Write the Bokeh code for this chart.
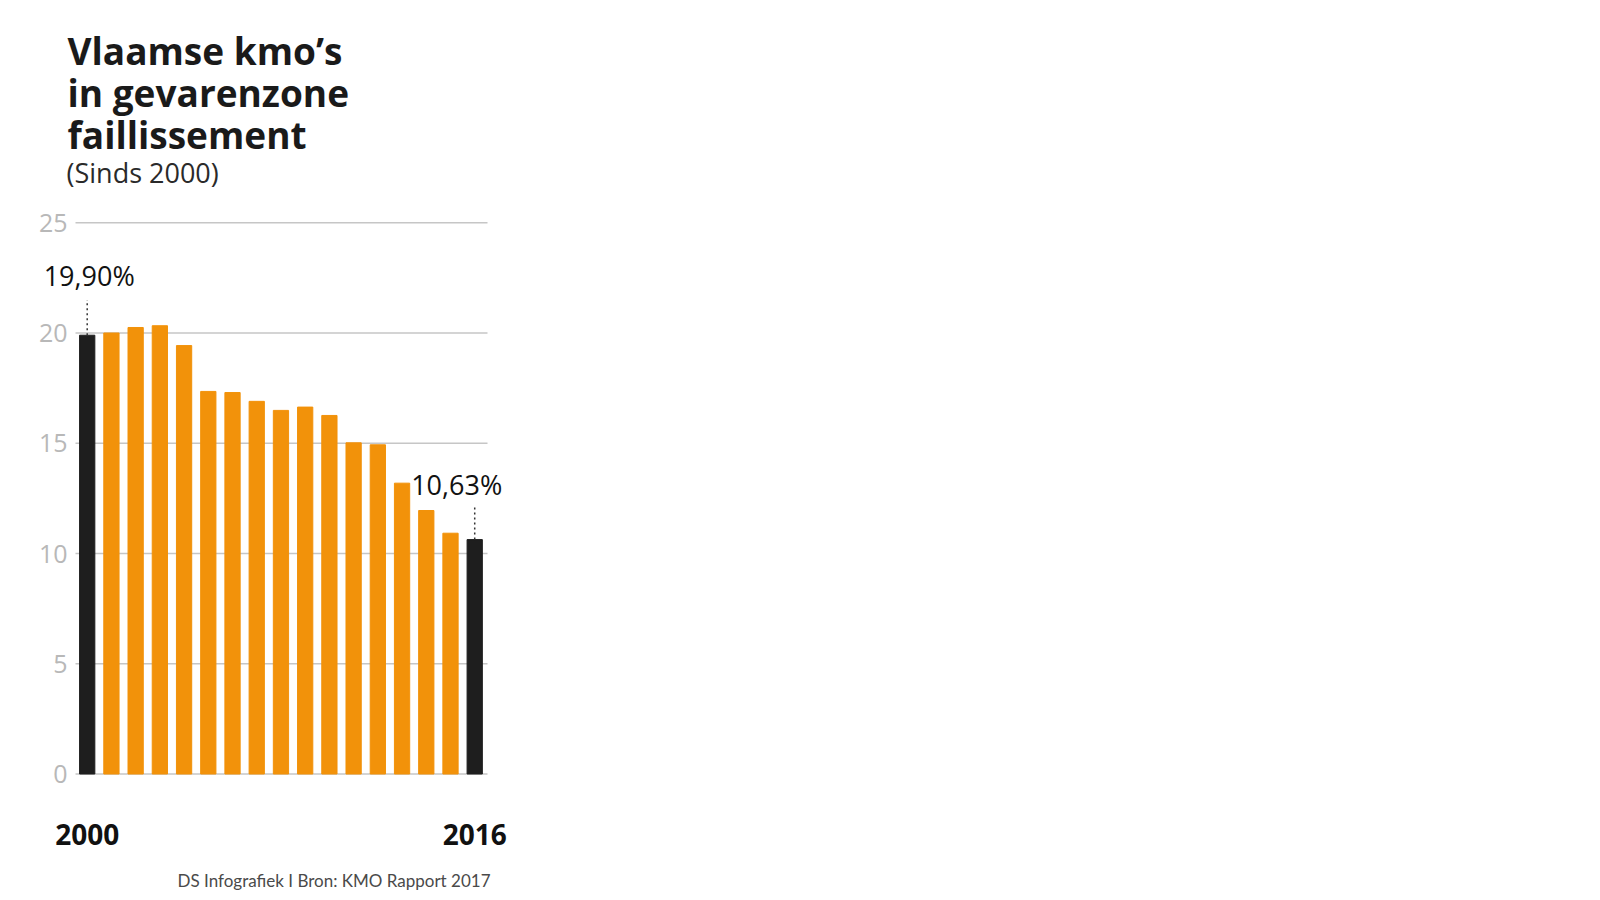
from bokeh.plotting import figure
from bokeh.models import ColumnDataSource, Range1d, FixedTicker, Label
from bokeh.embed import file_html
from bokeh.resources import INLINE

# ---- data ----
years = list(range(2000, 2017))
values = [19.90, 20.00, 20.25, 20.33, 19.43, 17.35, 17.30, 16.90, 16.49,
          16.64, 16.26, 15.02, 14.93, 13.19, 11.95, 10.92, 10.63]
highlight_years = [2000, 2016]
y_ticks = [0, 5, 10, 15, 20, 25]
title_lines = ["Vlaamse kmo\u2019s", "in gevarenzone", "faillissement"]
subtitle = "(Sinds 2000)"
source_text = "DS Infografiek I Bron: KMO Rapport 2017"

ORANGE = "#F2920A"
BLACK = "#1E1E1E"
colors = [BLACK if y in highlight_years else ORANGE for y in years]

# ---- layout helpers (pixel <-> data for this canvas) ----
W, H = 600, 900
FRAME_L, FRAME_B = 40, 900
PX_PER_YEAR, X0_PX = 24.22, 86.7
PX_PER_UNIT, Y0_PX = 22.05, 773.5
x_at = lambda px: years[0] + (px - X0_PX) / PX_PER_YEAR
y_at = lambda py: (Y0_PX - py) / PX_PER_UNIT

src = ColumnDataSource(dict(year=years, value=values, color=colors))

p = figure(width=W, height=H, output_backend="svg", toolbar_location=None,
           x_range=Range1d(x_at(FRAME_L), x_at(W)), y_range=Range1d(y_at(FRAME_B), y_at(0)),
           min_border_left=FRAME_L, min_border_right=0, min_border_top=0,
           min_border_bottom=H - FRAME_B)
p.outline_line_color = None
p.background_fill_color = "white"
p.border_fill_color = "white"
p.grid.visible = False

# horizontal grid lines (restricted to the chart column)
p.segment(x0=x_at(75), x1=x_at(487), y0=y_ticks, y1=y_ticks,
          line_color="#c6c6c6", line_width=1.5)

p.vbar(x="year", top="value", width=0.63, color="color", source=src)

# y axis (labels pulled to the right, next to the grid lines)
p.yaxis.ticker = FixedTicker(ticks=y_ticks)
p.yaxis.axis_line_color = None
p.yaxis.major_tick_line_color = None
p.yaxis.minor_tick_line_color = None
p.yaxis.major_label_standoff = -33
p.yaxis.major_label_text_font = "Open Sans"
p.yaxis.major_label_text_font_size = "25px"
p.yaxis.major_label_text_color = "#b8b8b8"

# x axis (labels pulled up, under the bars)
p.xaxis.ticker = FixedTicker(ticks=highlight_years)
p.xaxis.axis_line_color = None
p.xaxis.major_tick_line_color = None
p.xaxis.minor_tick_line_color = None
p.xaxis.major_label_standoff = -83
p.xaxis.major_label_text_font = "Open Sans"
p.xaxis.major_label_text_font_style = "bold"
p.xaxis.major_label_text_font_size = "28px"
p.xaxis.major_label_text_color = "#111111"

# value annotations for first and last year
first_v, last_v = values[0], values[-1]
fmt = lambda v: f"{v:.2f}%".replace(".", ",")
p.segment(x0=[years[0], years[-1]], x1=[years[0], years[-1]],
          y0=[first_v, last_v], y1=[first_v + 1.6, last_v + 1.5],
          line_color="#333333", line_width=1.5, line_dash="2 3")

p.add_layout(Label(x=years[0], y=first_v + 2.72, x_offset=2, text=fmt(first_v),
                   text_align="center", text_baseline="alphabetic",
                   text_font="Open Sans", text_font_size="27px", text_color="#111111"))
p.add_layout(Label(x=years[-1], y=last_v + 2.5, x_offset=27.5, text=fmt(last_v),
                   text_align="right", text_baseline="alphabetic",
                   text_font="Open Sans", text_font_size="27px", text_color="#111111"))

# title block
for i, line in enumerate(title_lines):
    p.add_layout(Label(x=x_at(67), y=y_at(50 + 42 * i), text=line,
                       text_align="left", text_baseline="alphabetic",
                       text_font="Open Sans", text_font_style="bold",
                       text_font_size="37px", text_color="#1a1a1a"))
p.add_layout(Label(x=x_at(66), y=y_at(172), text=subtitle,
                   text_align="left", text_baseline="alphabetic",
                   text_font="Open Sans", text_font_size="27px", text_color="#2a2a2a"))

# source
p.add_layout(Label(x=x_at(490), y=y_at(879.5), text=source_text,
                   text_align="right", text_baseline="alphabetic",
                   text_font="Lato", text_font_size="17px", text_color="#4a4a4a"))

open("out.html", "w").write(file_html(p, INLINE))
